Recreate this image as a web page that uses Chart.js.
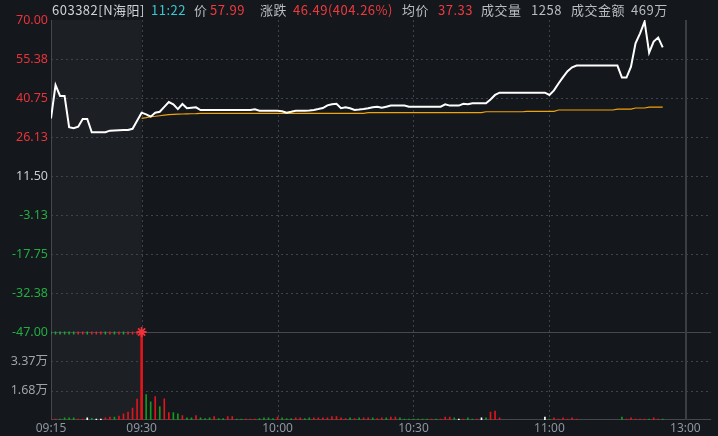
<!DOCTYPE html>
<html lang="zh-CN">
<head>
<meta charset="UTF-8">
<title>603382 N海阳 分时</title>
<script src="https://cdn.jsdelivr.net/npm/chart.js"></script>
<style>
  html, body { margin: 0; padding: 0; background: #14171b; }
  body { position: relative; width: 718px; height: 436px; overflow: hidden;
         font-family: "Noto Sans CJK SC", "Noto Sans", sans-serif; }
  #fenshi { position: absolute; left: 0; top: 0; }
  .hd { position: absolute; top: 0; height: 20px; line-height: 20px; font-size: 13px;
        letter-spacing: 0.5px; white-space: nowrap; color: #b9bdc3; z-index: 2; }
  .hd.red { color: #ee3b3f; }
  .hd.cyan { color: #39c8cf; }
  .hd.name { color: #cfd2d6; }
</style>
</head>
<body>
<span class="hd name" style="left:52px">603382[N海阳]</span>
<span class="hd cyan" style="left:151px">11:22</span>
<span class="hd" style="left:194px">价</span>
<span class="hd red" style="left:210px">57.99</span>
<span class="hd" style="left:260px">涨跌</span>
<span class="hd red" style="left:293px">46.49(404.26%)</span>
<span class="hd" style="left:402px">均价</span>
<span class="hd red" style="left:438px">37.33</span>
<span class="hd" style="left:481px">成交量</span>
<span class="hd" style="left:531px">1258</span>
<span class="hd" style="left:571px">成交金额</span>
<span class="hd" style="left:631px">469万</span>

<canvas id="fenshi" width="718" height="436"></canvas>

<script>
// 集合竞价 09:15-09:29，每分钟一格（x = -20 .. -1）
const preMinutes = [-20, -19, -18, -17, -16, -15, -14, -13, -12, -11, -10, -9, -8, -7, -6, -5, -4, -3, -2, -1];
const prePrice = [33.1, 45.6, 41.5, 41.5, 29.8, 29.4, 30.0, 32.9, 32.9, 27.9,
                  27.9, 27.9, 27.9, 28.5, 28.6, 28.7, 28.75, 28.75, 29.2, 32.2];
const preVol = [0.04, 0.06, 0.06, 0.12, 0.12, 0.12, 0.06, 0.06, 0.12, 0.1,
                0.06, 0.06, 0.12, 0.17, 0.17, 0.23, 0.35, 0.46, 0.69, 1.21];
const preVolColor = ['r','r','g','g','g','g','r','r','w','g','w','w','r','r','g','r','r','r','r','r'];
const preMarkColor = ['g','g','g','g','g','g','r','r','g','r','r','r','g','r','g','r','g','r','r','r'];

// 连续竞价 09:30 起，每分钟一个点（x = 0 .. 115）
const price = [35.25, 34.6, 33.75, 35.25, 35.6, 37.4, 39.25, 38.4, 36.6, 38.5,
               36.9, 37.1, 37.25, 36.25, 36.25, 36.25, 36.25, 36.25, 36.25, 36.25,
               36.25, 36.25, 36.25, 36.25, 36.25, 36.5, 36.0, 36.0, 36.0, 36.0,
               36.0, 35.75, 35.25, 35.6, 36.0, 36.0, 36.0, 36.1, 36.25, 36.6,
               37.0, 38.0, 38.4, 38.6, 36.9, 37.25, 36.9, 36.25, 36.4, 36.6,
               36.9, 37.25, 37.5, 37.1, 37.5, 37.9, 37.9, 37.9, 37.9, 37.5,
               37.5, 37.5, 37.5, 37.5, 37.5, 37.5, 37.5, 38.4, 37.9, 37.9,
               37.9, 38.6, 38.4, 38.75, 38.75, 38.75, 38.75, 40.2, 41.9, 42.75,
               42.75, 42.75, 42.75, 42.75, 42.75, 42.75, 42.75, 42.75, 42.75, 42.75,
               41.9, 43.6, 46.2, 48.6, 50.8, 52.25, 52.9, 52.9, 52.9, 52.9,
               52.9, 52.9, 52.9, 52.9, 52.9, 52.9, 48.4, 48.4, 52.5, 61.25,
               65.0, 69.4, 57.75, 61.9, 63.4, 59.75];
const avgPrice = [33.1, 33.4, 33.75, 33.9, 34.1, 34.3, 34.5, 34.6, 34.7, 34.75,
                  34.8, 34.85, 34.9, 35.0, 35.0, 35.0, 35.0, 35.0, 35.0, 35.0,
                  35.0, 35.0, 35.0, 35.0, 35.0, 35.0, 35.0, 35.0, 35.0, 35.0,
                  35.0, 35.0, 35.0, 35.0, 35.0, 35.0, 35.0, 35.0, 35.0, 35.0,
                  35.0, 35.0, 35.0, 35.0, 35.0, 35.0, 35.0, 35.0, 35.0, 35.0,
                  35.25, 35.25, 35.25, 35.25, 35.25, 35.25, 35.25, 35.25, 35.25, 35.25,
                  35.25, 35.25, 35.25, 35.25, 35.25, 35.25, 35.25, 35.25, 35.25, 35.25,
                  35.25, 35.25, 35.25, 35.25, 35.25, 35.25, 35.6, 35.6, 35.6, 35.6,
                  35.6, 35.6, 35.6, 35.6, 35.6, 35.75, 35.75, 35.75, 35.75, 35.75,
                  35.75, 35.75, 36.25, 36.25, 36.25, 36.25, 36.25, 36.25, 36.25, 36.25,
                  36.25, 36.25, 36.25, 36.25, 36.25, 36.6, 36.6, 36.6, 36.6, 37.0,
                  37.0, 37.0, 37.35, 37.35, 37.35, 37.35];
const vol = [5.06, 1.46, 1.05, 1.34, 0.77, 1.22, 0.42, 0.42, 0.36, 0.25,
             0.13, 0.13, 0.25, 0.13, 0.08, 0.13, 0.19, 0.08, 0.08, 0.19,
             0.19, 0.06, 0.06, 0.06, 0.06, 0.06, 0.08, 0.13, 0.13, 0.08,
             0.17, 0.13, 0.08, 0.08, 0.13, 0.13, 0.08, 0.13, 0.13, 0.13,
             0.13, 0.13, 0.19, 0.19, 0.13, 0.08, 0.13, 0.08, 0.13, 0.13,
             0.13, 0.13, 0.08, 0.12, 0.12, 0.17, 0.17, 0.12, 0.06, 0.06,
             0.06, 0.06, 0.06, 0.06, 0.06, 0.06, 0.06, 0.17, 0.17, 0.12,
             0.06, 0.06, 0.12, 0.06, 0.06, 0.12, 0.12, 0.46, 0.52, 0.12,
             null, null, null, null, null, null, null, null, null, 0.17,
             0.06, 0.12, 0.06, 0.12, 0.06, 0.12, 0.06, null, null, null,
             null, null, null, null, null, null, 0.17, 0.06, 0.12, 0.06,
             0.06, 0.06, 0.06, 0.12, 0.06, 0.06];
const volColor = ['r','g','g','r','g','r','r','g','g','r',
                  'g','g','r','g','g','g','r','g','g','r',
                  'r','g','g','r','r','r','g','g','g','g',
                  'r','g','g','g','r','r','g','g','r','r',
                  'r','r','r','r','r','r','g','r','g','r',
                  'r','g','r','r','g','r','r','g','g','g',
                  'g','g','g','g','r','g','r','r','r','g',
                  'w','r','g','g','r','w','g','r','r','r',
                  'r','r','r','r','r','r','r','r','r','w',
                  'g','r','r','r','r','r','r','r','r','r',
                  'r','r','r','r','r','r','g','r','r','r',
                  'r','r','g','r','r','g'];

// 坐标轴
const prevClose = 11.50;
const priceTicks = [70.00, 55.38, 40.75, 26.13, 11.50, -3.13, -17.75, -32.38, -47.00];
const priceMin = -80;
const volTicks = [3.37, 1.68];
const volMax = 23;
const timeTicks = [-20, 0, 30, 60, 90, 120];
const timeLabels = ['09:15', '09:30', '10:00', '10:30', '11:00', '13:00'];

const RED = '#e8333b', GREEN = '#22ad42', LABEL_GRAY = '#9ea3a9';
const barColor = { r: '#e0141c', g: '#12991e', w: '#ffffff' };
const markColor = { r: '#e8202a', g: '#1fa838' };

const toPriceAxis = v => priceMin + v / volMax * (priceTicks[0] - priceMin);

const pricePoints = preMinutes.map((m, i) => ({ x: m, y: prePrice[i] }))
  .concat(price.map((p, i) => ({ x: i, y: p })));
const avgPoints = avgPrice.map((p, i) => ({ x: i, y: p }));
const volPoints = preMinutes.map((m, i) => ({ x: m, y: preVol[i] }))
  .concat(vol.map((v, i) => ({ x: i, y: i === 0 ? null : v })));
const volColors = preVolColor.concat(volColor).map(c => barColor[c]);

// 背景、竞价区阴影和网格线
const backdrop = {
  id: 'backdrop',
  beforeDraw(chart) {
    const { ctx, chartArea: a, scales: { x, y, yv } } = chart;
    const hline = py => { ctx.beginPath(); ctx.moveTo(a.left, py); ctx.lineTo(a.right, py); ctx.stroke(); };
    const vline = px => { ctx.beginPath(); ctx.moveTo(px, a.top); ctx.lineTo(px, a.bottom); ctx.stroke(); };
    ctx.save();
    ctx.fillStyle = '#14171b';
    ctx.fillRect(0, 0, chart.width, chart.height);
    const x0 = x.getPixelForValue(timeTicks[0]), x1 = x.getPixelForValue(timeTicks[1]);
    ctx.fillStyle = '#1c1f23';
    ctx.fillRect(x0, a.top, x1 - x0, a.bottom - a.top);

    ctx.lineWidth = 1;
    ctx.strokeStyle = '#40444a';
    ctx.setLineDash([2, 3]);
    priceTicks.slice(1, -1).forEach(v => hline(Math.round(y.getPixelForValue(v)) + 0.5));
    volTicks.forEach(v => hline(Math.round(yv.getPixelForValue(v)) + 0.5));
    timeTicks.slice(1, -1).forEach(v => vline(Math.round(x.getPixelForValue(v)) + 0.5));
    ctx.setLineDash([]);

    ctx.strokeStyle = '#45484d';
    hline(Math.round(y.getPixelForValue(priceTicks[priceTicks.length - 1])) + 0.5);
    hline(a.bottom - 0.5);
    vline(a.left + 0.5);
    ctx.lineWidth = 2;
    ctx.strokeStyle = '#3c3e43';
    vline(Math.round(x.getPixelForValue(timeTicks[timeTicks.length - 1])) + 1);
    ctx.restore();
  }
};

new Chart(document.getElementById('fenshi'), {
  type: 'line',
  data: {
    datasets: [
      {
        label: '价格', data: pricePoints, yAxisID: 'y',
        borderColor: '#ffffff', borderWidth: 2, pointRadius: 0, tension: 0, order: 0
      },
      {
        label: '均价', data: avgPoints, yAxisID: 'y',
        borderColor: '#f0a30a', borderWidth: 1.2, pointRadius: 0, tension: 0, order: 1
      },
      {
        type: 'bar', label: '成交量', data: volPoints, yAxisID: 'yv',
        backgroundColor: volColors, barThickness: 1, grouped: false, order: 3
      },
      {
        type: 'bar', label: '开盘量', data: [{ x: 0, y: vol[0] }], yAxisID: 'yv',
        backgroundColor: barColor[volColor[0]], barThickness: 2, grouped: false, order: 3
      },
      {
        type: 'scatter', label: '竞价', yAxisID: 'y',
        data: preMinutes.map(m => ({ x: m, y: priceTicks[priceTicks.length - 1] - 0.4 })),
        pointStyle: 'line', rotation: 90, pointRadius: 1.5, borderWidth: 1.5,
        borderColor: preMarkColor.map(c => markColor[c]), order: 2
      },
      {
        type: 'scatter', label: '开盘', yAxisID: 'y',
        data: [{ x: 0, y: priceTicks[priceTicks.length - 1] }],
        pointStyle: 'star', pointRadius: 5, borderWidth: 1.8,
        borderColor: '#f0303a', backgroundColor: '#f0303a', order: 0
      }
    ]
  },
  options: {
    responsive: false,
    animation: false,
    layout: { padding: { top: 20, right: 0, left: 0, bottom: 0 } },
    plugins: { legend: { display: false }, tooltip: { enabled: false } },
    scales: {
      x: {
        type: 'linear', min: -20, max: 125.7, offset: false,
        grid: { display: false, drawTicks: false }, border: { display: false },
        afterBuildTicks: s => { s.ticks = timeTicks.map(v => ({ value: v })); },
        afterFit: s => { s.height = 16; },
        ticks: {
          autoSkip: false, maxRotation: 0, padding: 1, color: '#8e96a0',
          font: { family: '"Noto Sans", sans-serif', size: 12 },
          callback: (v, i) => timeLabels[i]
        }
      },
      y: {
        type: 'linear', position: 'left', min: priceMin, max: priceTicks[0],
        grid: { display: false, drawTicks: false }, border: { display: false },
        afterBuildTicks: s => {
          s.ticks = priceTicks.map(v => ({ value: v }))
            .concat(volTicks.map(v => ({ value: toPriceAxis(v) })));
        },
        afterFit: s => { s.width = 51; },
        ticks: {
          autoSkip: false, padding: 3,
          font: { family: '"Noto Sans", "Noto Sans CJK SC", sans-serif', size: 12.5 },
          callback: (v, i) => i < priceTicks.length
            ? priceTicks[i].toFixed(2)
            : volTicks[i - priceTicks.length].toFixed(2) + '万',
          color: c => {
            if (c.index >= priceTicks.length) return LABEL_GRAY;
            const p = priceTicks[c.index];
            return p > prevClose ? RED : (p < prevClose ? GREEN : '#c9ccd0');
          }
        }
      },
      yv: {
        type: 'linear', display: false, min: 0, max: volMax
      }
    }
  },
  plugins: [backdrop]
});
</script>
</body>
</html>
